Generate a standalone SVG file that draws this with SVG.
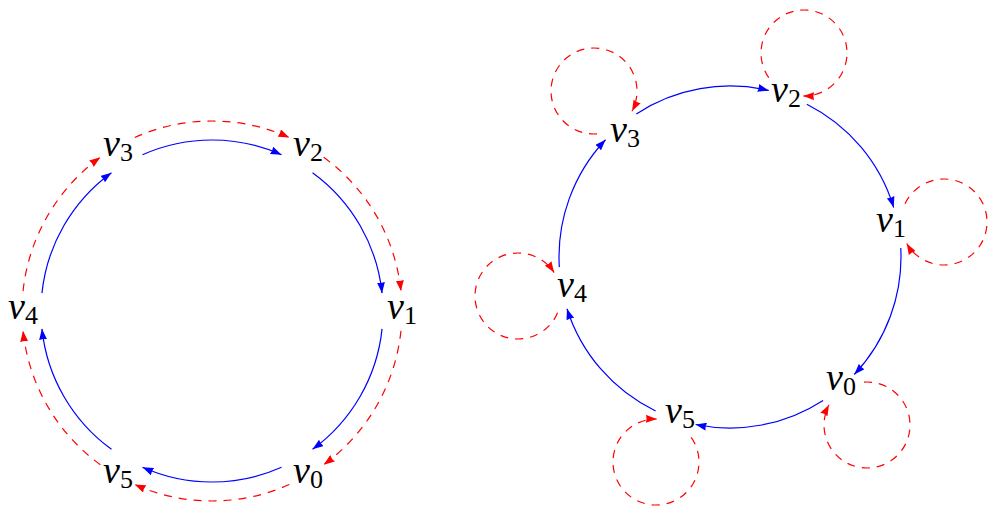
<svg xmlns="http://www.w3.org/2000/svg" width="991" height="507" viewBox="0 0 991 507">
<style>
  text { font-family: 'Liberation Serif', 'DejaVu Serif', serif; }
  .lbl { font-style: italic; font-size: 38px; fill: #000; text-anchor: middle; }
  .sub { font-style: normal; font-size: 26px; }
  .blue { fill: none; stroke: #0000ff; stroke-width: 1.2; marker-end: url(#ab); }
  .red { fill: none; stroke: #ff0000; stroke-width: 1.2; stroke-dasharray: 8 7; marker-end: url(#ar); }
</style>
<defs>
  <marker id="ab" markerUnits="userSpaceOnUse" viewBox="0 0 11 8" markerWidth="11" markerHeight="8" refX="11" refY="4" orient="auto">
    <path d="M11,4 L0,8 Q1.5,4 0,0 Z" fill="#0000ff"/>
  </marker>
  <marker id="ar" markerUnits="userSpaceOnUse" viewBox="0 0 11 8" markerWidth="11" markerHeight="8" refX="11" refY="4" orient="auto">
    <path d="M11,4 L0,8 Q1.5,4 0,0 Z" fill="#ff0000"/>
  </marker>
</defs>
<rect width="991" height="507" fill="#fff"/>

<g id="connectors">
  <path class="blue" d="M142.45,154.79 A171,171 0 0 1 281.55,154.79"/>
  <path class="blue" d="M312.51,172.66 A171,171 0 0 1 382.06,293.13"/>
  <path class="blue" d="M382.06,328.87 A171,171 0 0 1 312.51,449.34"/>
  <path class="blue" d="M281.55,467.21 A171,171 0 0 1 142.45,467.21"/>
  <path class="blue" d="M111.49,449.34 A171,171 0 0 1 41.94,328.87"/>
  <path class="blue" d="M41.94,293.13 A171,171 0 0 1 111.49,172.66"/>
  <path class="red" d="M134.73,137.43 A190,190 0 0 1 289.27,137.43"/>
  <path class="red" d="M323.68,157.29 A190,190 0 0 1 400.96,291.14"/>
  <path class="red" d="M400.96,330.86 A190,190 0 0 1 323.68,464.71"/>
  <path class="red" d="M289.27,484.57 A190,190 0 0 1 134.73,484.57"/>
  <path class="red" d="M100.32,464.71 A190,190 0 0 1 23.04,330.86"/>
  <path class="red" d="M23.04,291.14 A190,190 0 0 1 100.32,157.29"/>
  <path class="blue" d="M636.36,113.91 A171,171 0 0 1 768.76,90.45"/>
  <path class="blue" d="M806.83,104.23 A171,171 0 0 1 893.70,207.58"/>
  <path class="blue" d="M900.76,248.05 A171,171 0 0 1 854.25,374.49"/>
  <path class="blue" d="M823.13,400.42 A171,171 0 0 1 695.61,424.51"/>
  <path class="blue" d="M655.58,410.95 A171,171 0 0 1 567.00,308.71"/>
  <path class="blue" d="M559.31,267.14 A171,171 0 0 1 605.55,139.73"/>
  <path class="red" d="M597.00,133.90 A43,43 0 1 1 631.97,111.19"/>
  <path class="red" d="M768.78,77.66 A43,43 0 1 1 803.25,95.99"/>
  <path class="red" d="M905.03,203.83 A43,43 0 1 1 906.76,243.50"/>
  <path class="red" d="M864.00,382.10 A43,43 0 1 1 829.04,404.81"/>
  <path class="red" d="M691.22,437.34 A43,43 0 1 1 656.75,419.01"/>
  <path class="red" d="M557.58,312.80 A43,43 0 1 1 554.06,272.58"/>
</g>

<g id="L-v3"><text class="lbl" font-family="'Liberation Serif', 'DejaVu Serif', serif" x="118" y="156">v<tspan class="sub" dy="5">3</tspan></text></g>
<g id="L-v2"><text class="lbl" font-family="'Liberation Serif', 'DejaVu Serif', serif" x="308" y="156">v<tspan class="sub" dy="5">2</tspan></text></g>
<g id="L-v1"><text class="lbl" font-family="'Liberation Serif', 'DejaVu Serif', serif" x="402" y="319">v<tspan class="sub" dy="5">1</tspan></text></g>
<g id="L-v0"><text class="lbl" font-family="'Liberation Serif', 'DejaVu Serif', serif" x="308" y="483">v<tspan class="sub" dy="5">0</tspan></text></g>
<g id="L-v5"><text class="lbl" font-family="'Liberation Serif', 'DejaVu Serif', serif" x="118" y="483">v<tspan class="sub" dy="5">5</tspan></text></g>
<g id="L-v4"><text class="lbl" font-family="'Liberation Serif', 'DejaVu Serif', serif" x="23" y="319">v<tspan class="sub" dy="5">4</tspan></text></g>

<g id="R-v3"><text class="lbl" font-family="'Liberation Serif', 'DejaVu Serif', serif" x="625" y="142">v<tspan class="sub" dy="5">3</tspan></text></g>
<g id="R-v2"><text class="lbl" font-family="'Liberation Serif', 'DejaVu Serif', serif" x="786" y="102">v<tspan class="sub" dy="5">2</tspan></text></g>
<g id="R-v1"><text class="lbl" font-family="'Liberation Serif', 'DejaVu Serif', serif" x="891" y="232">v<tspan class="sub" dy="5">1</tspan></text></g>
<g id="R-v0"><text class="lbl" font-family="'Liberation Serif', 'DejaVu Serif', serif" x="841" y="390">v<tspan class="sub" dy="5">0</tspan></text></g>
<g id="R-v5"><text class="lbl" font-family="'Liberation Serif', 'DejaVu Serif', serif" x="680" y="423">v<tspan class="sub" dy="5">5</tspan></text></g>
<g id="R-v4"><text class="lbl" font-family="'Liberation Serif', 'DejaVu Serif', serif" x="572" y="297">v<tspan class="sub" dy="5">4</tspan></text></g>
</svg>
